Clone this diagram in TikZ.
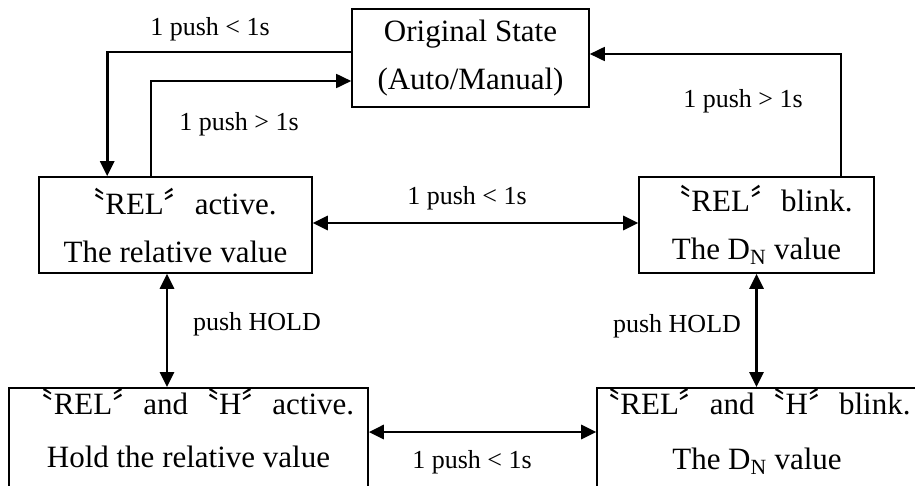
\documentclass[tikz,border=0pt]{standalone}
\usepackage{fontspec}
\setmainfont{Liberation Serif}
\newfontfamily\cjk{Noto Sans CJK SC}
\usetikzlibrary{arrows.meta}
\newcommand{\lqm}{{\cjk 〝}}
\newcommand{\rqm}{{\cjk 〞}}
\begin{document}
\begin{tikzpicture}[x=1pt,y=-1pt,
  box/.style={draw,line width=1.6pt,align=center,inner sep=0pt,
    font=\fontsize{31}{48}\selectfont},
  conn/.style={line width=2.6pt,-{Triangle[length=15pt,width=14pt]}},
  thin conn/.style={line width=1.8pt,-{Triangle[length=15pt,width=14pt]}},
  both/.style={line width=2.8pt,{Triangle[length=15pt,width=14pt]}-{Triangle[length=15pt,width=14pt]}},
  lab/.style={font=\fontsize{26}{30}\selectfont,inner sep=0pt}]
\useasboundingbox (0,0) rectangle (915,485);
\clip (0,0) rectangle (915,485);
\node[box,minimum width=237pt,minimum height=98pt] (orig) at (470.5,58)
  {Original State\\(Auto/Manual)};
\node[box,minimum width=273pt,minimum height=96pt] (act) at (175.5,225)
  {\lqm REL\rqm active.\\The relative value};
\node[box,minimum width=235pt,minimum height=96pt] (blink) at (756.5,225)
  {\lqm REL\rqm blink.\\The D\textsubscript{N} value};
\node[box,minimum width=359pt,minimum height=170pt,anchor=north] (hl) at (188.5,387)
  {\lqm REL\rqm and\lqm H\rqm active.\\[5pt]Hold the relative value\\[60pt]\mbox{}};
\node[box,minimum width=320pt,minimum height=170pt,anchor=north] (hb) at (757,387)
  {\mbox{\kern-14pt}\lqm REL\rqm and\lqm H\rqm blink.\\[7pt]The D\textsubscript{N} value\\[60pt]\mbox{}};
% connectors
\draw[conn] ([yshift=6pt]orig.west) -| ([xshift=69pt]act.north west);
\draw[thin conn] ([xshift=113pt]act.north west) |- ([yshift=-23pt]orig.west);
\draw[thin conn] ([xshift=-34pt]blink.north east) |- ([yshift=4pt]orig.east);
\draw[both] ([yshift=2pt]act.east) -- ([yshift=2pt]blink.west);
\draw[both] ([xshift=-8.5pt]act.south) -- ([xshift=-8.5pt]act.south |- hl.north);
\draw[both] (blink.south) -- (blink.south |- hb.north);
\draw[both] ([yshift=-45pt]hl.north east) -- ([yshift=-45pt]hl.north east -| hb.west);
% labels
\node[lab] (l1) at (210,29) {1 push < 1s};
\node[lab] (l2) at (239,124) {1 push > 1s};
\node[lab] (l3) at (743,101) {1 push > 1s};
\node[lab] (l4) at (467,198) {1 push < 1s};
\node[lab] (l5) at (257,324) {push HOLD};
\node[lab] (l6) at (677,326) {push HOLD};
\node[lab] (l7) at (472,462) {1 push < 1s};
\end{tikzpicture}
\end{document}
